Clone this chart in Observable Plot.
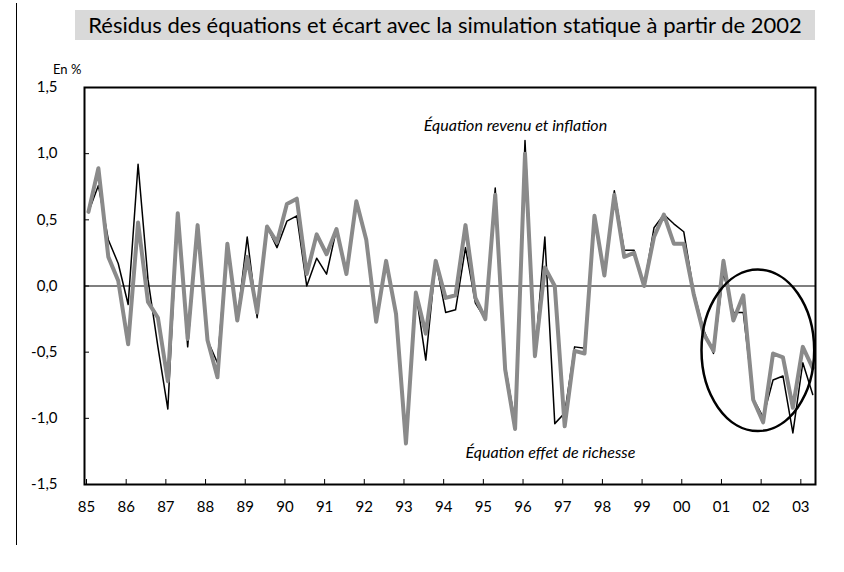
<!DOCTYPE html>
<html><head><meta charset="utf-8">
<script src="https://cdn.jsdelivr.net/npm/d3@7"></script>
<script src="https://cdn.jsdelivr.net/npm/@observablehq/plot@0.6"></script>
<style>
body{margin:0;background:#fff;font-family:Lato,"Open Sans",sans-serif;}
#wrap{position:relative;width:844px;height:572px;}
#vline{position:absolute;left:16px;top:3px;width:1px;height:542px;background:#000;}
#title{position:absolute;left:75px;top:10px;width:740px;height:30px;background:#d9d9d9;font-size:22px;line-height:30px;text-align:center;color:#000;}
#unit{position:absolute;left:53px;top:61px;font-size:13px;color:#000;}
#chart{position:absolute;left:0;top:0;}
</style></head>
<body>
<div id="wrap">
  <div id="vline"></div>
  <div id="title">Résidus des équations et écart avec la simulation statique à partir de 2002</div>
  <div id="unit">En %</div>
  <div id="chart"></div>
</div>
<script>
// Quarterly residuals, 1985Q1 - 2003Q2
const firstYear = 1985;
const revenuInflation = [
  0.56, 0.76, 0.35, 0.17, -0.14, 0.92, 0.05, -0.46, -0.93, 0.55, -0.46, 0.46,
  -0.41, -0.58, 0.32, -0.26, 0.37, -0.24, 0.45, 0.29, 0.49, 0.53, 0.00, 0.21,
  0.09, 0.43, 0.09, 0.64, 0.35, -0.27, 0.19, -0.21, -1.19, -0.05, -0.56, 0.19,
  -0.20, -0.18, 0.29, -0.13, -0.25, 0.74, -0.60, -1.03, 1.10, -0.53, 0.37, -1.04,
  -0.96, -0.46, -0.47, 0.53, 0.08, 0.72, 0.27, 0.27, 0.00, 0.44, 0.54, 0.47,
  0.41, -0.04, -0.33, -0.51, 0.10, -0.20, -0.20, -0.85, -0.99, -0.71, -0.68, -1.11,
  -0.58, -0.82
];
const effetRichesse = [
  0.56, 0.89, 0.22, 0.04, -0.44, 0.48, -0.12, -0.24, -0.72, 0.55, -0.40, 0.46,
  -0.41, -0.69, 0.32, -0.26, 0.22, -0.20, 0.45, 0.33, 0.62, 0.66, 0.09, 0.39,
  0.24, 0.43, 0.09, 0.64, 0.35, -0.27, 0.19, -0.21, -1.19, -0.05, -0.36, 0.19,
  -0.09, -0.07, 0.46, -0.09, -0.25, 0.69, -0.63, -1.08, 1.00, -0.53, 0.14, 0.00,
  -1.06, -0.49, -0.51, 0.53, 0.08, 0.69, 0.22, 0.25, 0.00, 0.37, 0.54, 0.32,
  0.32, -0.06, -0.36, -0.49, 0.19, -0.26, -0.07, -0.86, -1.03, -0.51, -0.54, -0.92,
  -0.46, -0.62
];
const yearTicks = d3.range(1985, 2004);
const yTicks = [-1.5, -1, -0.5, 0, 0.5, 1, 1.5];
const annotations = [
  {text: "Équation revenu et inflation", x: 1995.86, y: 1.21},
  {text: "Équation effet de richesse", x: 1996.74, y: -1.26}
];
const highlight = {cx: 2001.98, cy: -0.49, rx: 1.42, ry: 0.61};

const toRows = arr => arr.map((v, i) => ({t: firstYear + i / 4 + 0.1, v}));
const blackRows = toRows(revenuInflation);
const grayRows = toRows(effetRichesse);

const fmt = d => d.toFixed(1).replace(".", ",");

const ellipseMark = (index, scales, values, dimensions, context) => {
  const x = scales.x, y = scales.y;
  const cx = x(highlight.cx), cy = y(highlight.cy);
  const rx = Math.abs(x(highlight.cx + highlight.rx) - cx);
  const ry = Math.abs(y(highlight.cy + highlight.ry) - cy);
  const e = document.createElementNS("http://www.w3.org/2000/svg", "ellipse");
  e.setAttribute("cx", cx); e.setAttribute("cy", cy);
  e.setAttribute("rx", rx); e.setAttribute("ry", ry);
  e.setAttribute("fill", "none"); e.setAttribute("stroke", "#000");
  e.setAttribute("stroke-width", 2.5);
  return e;
};

const chart = Plot.plot({
  width: 844, height: 572,
  marginLeft: 84, marginRight: 29, marginTop: 87, marginBottom: 88,
  style: {fontFamily: "Lato, 'Open Sans', sans-serif", fontSize: "15px", color: "#000", background: "transparent"},
  x: {domain: [1985, 2003.42]},
  y: {domain: [-1.5, 1.5]},
  marks: [
    Plot.ruleY([0], {stroke: "#000", strokeWidth: 1.2}),
    Plot.line(blackRows, {x: "t", y: "v", stroke: "#000", strokeWidth: 1.5}),
    Plot.line(grayRows, {x: "t", y: "v", stroke: "#8a8a8a", strokeWidth: 4}),
    Plot.frame({stroke: "#000", strokeWidth: 2}),
    Plot.axisX({ticks: yearTicks, tickFormat: d => String(d).slice(2), tickSize: -5, tickPadding: 22, dx: 2, label: null, fontSize: 15}),
    Plot.axisY({ticks: yTicks, tickFormat: fmt, tickSize: -5, tickPadding: 32, label: null, fontSize: 15}),
    Plot.text(annotations, {x: "x", y: "y", text: "text", fontStyle: "italic", fontSize: 16, fill: "#000"}),
    ellipseMark
  ]
});
document.getElementById("chart").appendChild(chart);
</script>
</body></html>
